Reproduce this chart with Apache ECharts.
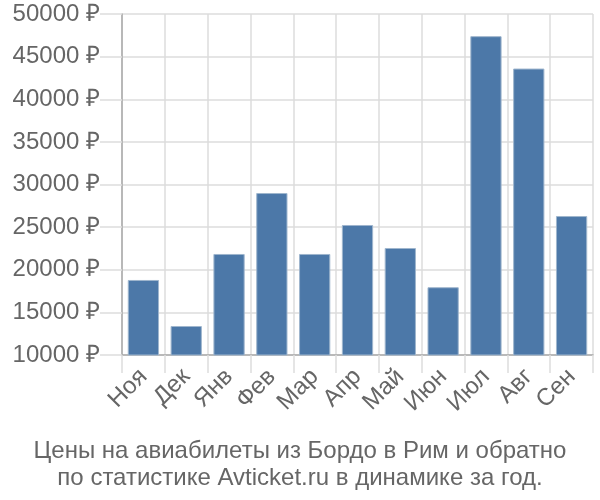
<!DOCTYPE html>
<html><head><meta charset="utf-8">
<script src="https://cdn.jsdelivr.net/npm/echarts@6/dist/echarts.min.js"></script>
<style>html,body{margin:0;padding:0;background:#fff}#c{width:600px;height:500px}</style>
</head><body><div id="c"></div>
<script>
var categories = ['Ноя','Дек','Янв','Фев','Мар','Апр','Май','Июн','Июл','Авг','Сен'];
var prices = [18800, 13400, 21850, 29000, 21850, 25250, 22550, 17950, 47400, 43600, 26300];
var yMin = 10000, yMax = 50000, yStep = 5000;
var titleLines = ['Цены на авиабилеты из Бордо в Рим и обратно', 'по статистике Avticket.ru в динамике за год.'];

var chart = echarts.init(document.getElementById('c'));
chart.setOption({
  animation: false,
  textStyle: {fontFamily: 'Liberation Sans, Arial, sans-serif'},
  title: {
    text: titleLines.join('\n'),
    left: 'center', top: 433,
    textStyle: {fontSize: 24, fontWeight: 'normal', color: '#666', lineHeight: 27, fontFamily: 'Liberation Sans, Arial, sans-serif'}
  },
  grid: {left: 122, right: 7, top: 14, bottom: 145},
  xAxis: {
    type: 'category', data: categories,
    axisLine: {lineStyle: {color: '#aaa', width: 1.5}},
    axisTick: {show: true, length: 18, lineStyle: {color: '#ddd', width: 1.5}},
    splitLine: {show: true, interval: 0, lineStyle: {color: '#ddd', width: 1.5}},
    axisLabel: {rotate: 45, interval: 0, fontSize: 24, color: '#666', margin: 18}
  },
  yAxis: {
    type: 'value', min: yMin, max: yMax, interval: yStep,
    axisLine: {show: true, lineStyle: {color: '#aaa', width: 1.5}},
    axisTick: {show: true, length: 22, lineStyle: {color: '#ddd', width: 1.5}},
    splitLine: {lineStyle: {color: '#ddd', width: 1.5}},
    axisLabel: {fontSize: 24, color: '#666', margin: 22, formatter: function(v){return v + ' ₽';}}
  },
  series: [{
    type: 'bar', data: prices, barCategoryGap: '27%',
    itemStyle: {color: '#4c78a8', borderColor: '#9fb6ce', borderWidth: 1}
  }]
});
</script></body></html>
